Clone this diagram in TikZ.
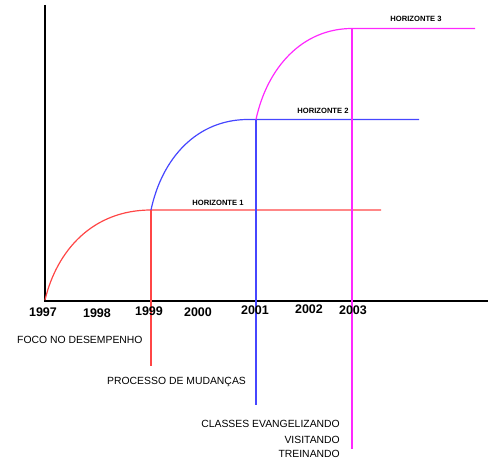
\documentclass[tikz,border=0pt]{standalone}
\usepackage{fontspec}
\setmainfont{Liberation Sans}
\begin{document}
\begin{tikzpicture}[x=1pt,y=-1pt,
  axis/.style={line width=2pt,black},
  redl/.style={line width=1.2pt,color={rgb,255:red,255;green,70;blue,70}},
  bluel/.style={line width=1.2pt,color={rgb,255:red,70;green,70;blue,255}},
  magl/.style={line width=1.2pt,color={rgb,255:red,255;green,40;blue,255}},
  year/.style={font=\bfseries\fontsize{12.5}{13}\selectfont,inner sep=0pt},
  hlab/.style={font=\bfseries\fontsize{7.6}{8}\selectfont,inner sep=0pt},
  blab/.style={font=\fontsize{10.4}{12}\selectfont,inner sep=0pt}]
\useasboundingbox (0,0) rectangle (493,468);
% coordinates
\coordinate (O) at (45,300.5);
\coordinate (Ytop) at (45,5);
\coordinate (Xend) at (488,300.5);
\coordinate (r0) at (45,300);
\coordinate (r1) at (151,210);
\coordinate (r2) at (381,210);
\coordinate (r3) at (151,366);
\coordinate (b1) at (248,119.5);
\coordinate (bv) at (256,119.5);
\coordinate (b2) at (419,119.5);
\coordinate (b3) at (256,405);
\coordinate (m1) at (352,28.5);
\coordinate (m2) at (475,28.5);
\coordinate (m3) at (352,449);
% axes
\draw[axis] (Ytop) -- (O) -- (Xend);
% red
\draw[redl] (r0) .. controls (57,250) and (93,210) .. (r1) -- (r2);
\draw[redl] (r1) -- (r3);
% blue
\draw[bluel] (r1) .. controls (162,158) and (197,119.5) .. (b1) -- (b2);
\draw[bluel] (bv) -- (b3);
% magenta
\draw[magl] (bv) .. controls (267,68) and (302,28.5) .. (m1) -- (m2);
\draw[magl] (m1) -- (m3);
% year labels
\node[year] (y97) at (43,312) {1997};
\node[year] (y98) at (97,313) {1998};
\node[year] (y99) at (149,311) {1999};
\node[year] (y00) at (198,312) {2000};
\node[year] (y01) at (255,310) {2001};
\node[year] (y02) at (309,309) {2002};
\node[year] (y03) at (353,310) {2003};
% horizon labels
\node[hlab] (h1) at (218,203) {HORIZONTE 1};
\node[hlab] (h2) at (323,111) {HORIZONTE 2};
\node[hlab] (h3) at (416,19) {HORIZONTE 3};
% bottom labels
\node[blab,anchor=west] (foco) at (17,340) {FOCO NO DESEMPENHO};
\node[blab,anchor=west] (proc) at (107,382) {PROCESSO DE MUDANÇAS};
\node[blab,anchor=east] (cls) at (340,424) {CLASSES EVANGELIZANDO};
\node[blab,anchor=east] (vis) at (340,440) {VISITANDO};
\node[blab,anchor=east] (tre) at (340,454) {TREINANDO};
\end{tikzpicture}
\end{document}
